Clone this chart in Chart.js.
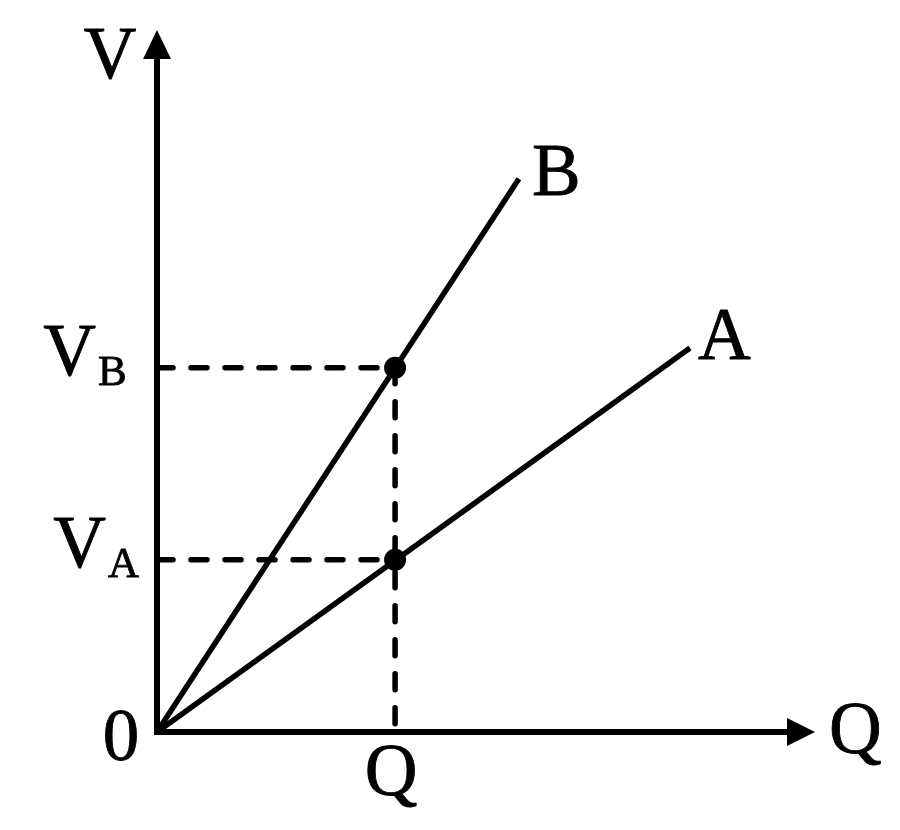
<!DOCTYPE html>
<html>
<head>
<meta charset="utf-8">
<script src="https://cdn.jsdelivr.net/npm/chart.js@4.4.0/dist/chart.umd.min.js"></script>
<style>
  html, body { margin: 0; padding: 0; background: #fff; }
  canvas { display: block; }
</style>
</head>
<body>
<canvas id="chart" width="900" height="830"></canvas>
<script>
// axis ranges (arbitrary units)
const qRange = [0, 11];
const vRange = [0, 11.7];

// straight lines through the origin: names and end points
const lineNames = ['B', 'A'];
const lineEndQ = [6.05, 8.91];
const lineEndV = [9.22, 6.40];

// the marked charge Q and the potentials V_B, V_A read there
const markQ = 3.98;
const markV = [6.07, 2.87];
const markSubs = ['B', 'A'];

const FONT = "'Liberation Serif'";
const INK = '#000';

function line(name, endQ, endV) {
    return {
        label: name,
        data: [{ x: 0, y: 0 }, { x: endQ, y: endV }],
        borderColor: INK,
        borderWidth: 5.5,
        pointRadius: 0,
        showLine: true,
        clip: false
    };
}

function guide(points) {
    return {
        data: points,
        borderColor: INK,
        borderWidth: 5.5,
        borderDash: [16, 18],
        borderCapStyle: 'round',
        pointRadius: 0,
        showLine: true,
        clip: false
    };
}

const datasets = [];
markV.forEach(v => {
    datasets.push(guide([{ x: 0, y: v }, { x: markQ, y: v }]));
});
datasets.push(guide([{ x: markQ, y: Math.max(...markV) }, { x: markQ, y: 0 }]));
lineNames.forEach((n, i) => datasets.push(line(n, lineEndQ[i], lineEndV[i])));
datasets.push({
    data: markV.map(v => ({ x: markQ, y: v })),
    showLine: false,
    pointRadius: 11,
    pointBackgroundColor: INK,
    pointBorderWidth: 0,
    clip: false
});

// axes with arrow heads, drawn from the scales
const axesPlugin = {
    id: 'axes',
    beforeDatasetsDraw(chart) {
        const { ctx, scales: { x, y } } = chart;
        const x0 = x.getPixelForValue(0), y0 = y.getPixelForValue(0);
        const xEnd = x.getPixelForValue(qRange[1]), yEnd = y.getPixelForValue(vRange[1]);
        ctx.save();
        ctx.strokeStyle = INK;
        ctx.fillStyle = INK;
        ctx.lineWidth = 6;
        ctx.lineCap = 'butt';
        ctx.beginPath();
        ctx.moveTo(x0, y0 + 3);
        ctx.lineTo(x0, yEnd + 20);
        ctx.moveTo(x0 - 3, y0);
        ctx.lineTo(xEnd - 20, y0);
        ctx.stroke();
        ctx.beginPath();
        ctx.moveTo(x0, yEnd);
        ctx.lineTo(x0 - 14, yEnd + 29);
        ctx.lineTo(x0 + 14, yEnd + 29);
        ctx.closePath();
        ctx.fill();
        ctx.beginPath();
        ctx.moveTo(xEnd, y0);
        ctx.lineTo(xEnd - 28, y0 - 14);
        ctx.lineTo(xEnd - 28, y0 + 14);
        ctx.closePath();
        ctx.fill();
        ctx.restore();
    },
    afterDraw(chart) {
        const { ctx, scales: { x, y } } = chart;
        const x0 = x.getPixelForValue(0), y0 = y.getPixelForValue(0);
        const xEnd = x.getPixelForValue(qRange[1]), yEnd = y.getPixelForValue(vRange[1]);
        ctx.save();
        ctx.fillStyle = INK;
        ctx.strokeStyle = INK;
        ctx.lineWidth = 0.8;
        ctx.textBaseline = 'alphabetic';
        const big = '73px ' + FONT, small = '43px ' + FONT;
        const text = (s, px, py) => { ctx.fillText(s, px, py); ctx.strokeText(s, px, py); };

        ctx.font = big;
        ctx.textAlign = 'center';
        text('V', x0 - 47, yEnd + 48);
        text('0', x0 - 36, y0 + 28);
        text('Q', x.getPixelForValue(markQ) - 4, y0 + 63);
        ctx.textAlign = 'left';
        text('Q', xEnd + 14, y0 + 21);

        // V_B, V_A at the left of the dashed guides
        const subX = [98, 108];
        markV.forEach((v, i) => {
            const py = y.getPixelForValue(v);
            ctx.font = big;
            ctx.textAlign = 'right';
            text('V', subX[i] - 2, py + 7);
            ctx.font = small;
            ctx.textAlign = 'left';
            text(markSubs[i], subX[i], py + 17);
        });

        // line names at the free ends
        const off = [[13, 16], [8, 11]];
        ctx.font = big;
        ctx.textAlign = 'left';
        lineNames.forEach((n, i) => {
            text(n, x.getPixelForValue(lineEndQ[i]) + off[i][0],
                y.getPixelForValue(lineEndV[i]) + off[i][1]);
        });
        ctx.restore();
    }
};

new Chart(document.getElementById('chart'), {
    type: 'scatter',
    data: { datasets },
    options: {
        responsive: false,
        animation: false,
        devicePixelRatio: 1,
        layout: { padding: { left: 157, right: 85, top: 30, bottom: 98 } },
        scales: {
            x: { type: 'linear', min: qRange[0], max: qRange[1], display: false },
            y: { type: 'linear', min: vRange[0], max: vRange[1], display: false }
        },
        plugins: {
            legend: { display: false },
            tooltip: { enabled: false }
        },
        elements: { line: { tension: 0 } }
    },
    plugins: [axesPlugin]
});
</script>
</body>
</html>
